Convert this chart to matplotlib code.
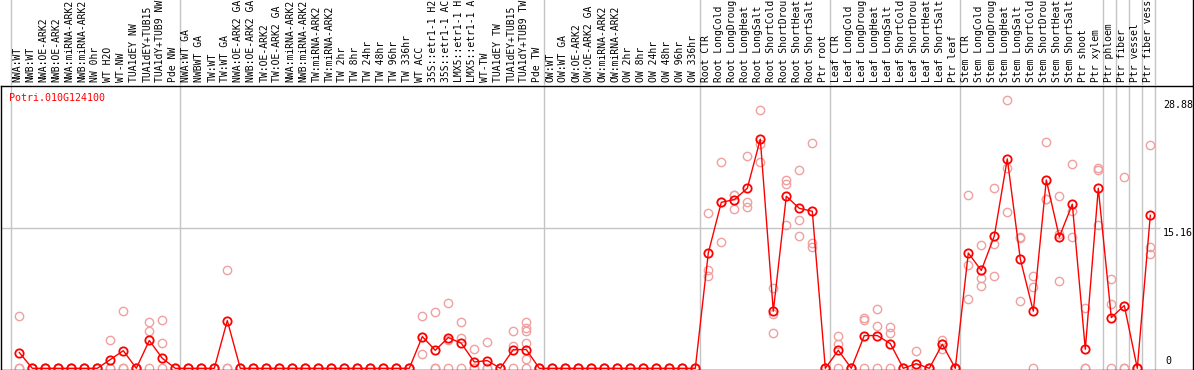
import numpy as np
import matplotlib
matplotlib.use("Agg")
import matplotlib.pyplot as plt

# gene shown in the top-left corner
gene = "Potri.010G124100"

# sample names (as visible, top of each name is cut by the figure edge)
samples = [
    "NWA:WT", "NWB:WT", "NWA:OE-ARK2", "NWB:OE-ARK2", "NWA:miRNA-ARK2", "NWB:miRNA-ARK2",
    "NW 0hr", "WT H2O", "WT-NW", "TUA1dEY NW", "TUA1dEY+TUB15", "TUA1dY+TUB9 NW", "Pde NW",
    "NWA:WT GA", "NWBWT GA", "TW:WT", "TW:WT GA", "NWA:OE-ARK2 GA", "NWB:OE-ARK2 GA",
    "TW:OE-ARK2", "TW:OE-ARK2 GA", "NWA:miRNA-ARK2", "NWB:miRNA-ARK2", "TW:miRNA-ARK2",
    "TW:miRNA-ARK2", "TW 2hr", "TW 8hr", "TW 24hr", "TW 48hr", "TW 96hr", "TW 336hr",
    "WT ACC", "35S::etr1-1 H2", "35S::etr1-1 AC", "LMX5::etr1-1 H", "LMX5::etr1-1 A",
    "WT-TW", "TUA1dEY TW", "TUA1dEY+TUB15", "TUA1dY+TUB9 TW", "Pde TW",
    "OW:WT", "OW:WT GA", "OW:OE-ARK2", "OW:OE-ARK2 GA", "OW:miRNA-ARK2", "OW:miRNA-ARK2",
    "OW 2hr", "OW 8hr", "OW 24hr", "OW 48hr", "OW 96hr", "OW 336hr",
    "Root CTR", "Root LongCold", "Root LongDroug", "Root LongHeat", "Root LongSalt",
    "Root ShortCold", "Root ShortDrou", "Root ShortHeat", "Root ShortSalt", "Ptr root",
    "Leaf CTR", "Leaf LongCold", "Leaf LongDroug", "Leaf LongHeat", "Leaf LongSalt",
    "Leaf ShortCold", "Leaf ShortDrou", "Leaf ShortHeat", "Leaf ShortSalt", "Ptr leaf",
    "Stem CTR", "Stem LongCold", "Stem LongDroug", "Stem LongHeat", "Stem LongSalt",
    "Stem ShortCold", "Stem ShortDrou", "Stem ShortHeat", "Stem ShortSalt", "Ptr shoot",
    "Ptr xylem", "Ptr phloem", "Ptr fiber", "Ptr vessel", "Ptr fiber vessel",
]
group_sizes = [13, 28, 12, 10, 10, 11, 1, 1, 1, 1]

# mean expression per sample
means = [
    1.7, 0, 0, 0, 0, 0, 0, 0.94, 1.9, 0, 3.0, 1.08, 0,
    0, 0, 0, 5.15, 0, 0, 0, 0, 0, 0, 0, 0, 0, 0, 0, 0, 0, 0,
    3.42, 1.94, 3.32, 2.70, 0.68, 0.83, 0, 2.02, 2.02, 0,
    0, 0, 0, 0, 0, 0, 0, 0, 0, 0, 0, 0,
    12.43, 17.9, 18.19, 19.41, 24.71, 6.16, 18.55, 17.25, 16.93, 0,
    1.94, 0, 3.53, 3.53, 2.67, 0, 0.5, 0, 2.59, 0,
    12.43, 10.55, 14.26, 22.58, 11.78, 6.16, 20.31, 14.15, 17.7, 2.05, 19.41,
    5.47, 6.77, 0, 16.5,
]

# individual replicates per sample
z = [0, 0, 0]
reps = [
    [5.6, 0, 0], z, z, z, z, z, z, [3.1, 0, 0], [6.2, 0, 0], z, [4.97, 4.07, 0], [5.26, 2.78, 0], z,
    z, z, z, [10.6, 0, 0], z, z, z, z, z, z, z, z, z, z, z, z, z, z,
    [5.62, 3.4, 1.51], [6.12, 0, 0], [6.99, 3.02, 0], [5.04, 3.32, 0], [2.13, 0, 0], [2.81, 0, 0], z,
    [4.07, 2.41, 0], [4.97, 4.36, 4.07, 2.78, 1.0, 0], z,
    z, z, z, z, z, z, z, z, z, z, z, z,
    [16.71, 10.55, 9.94], [22.26, 17.9, 13.58], [18.7, 18.7, 17.2], [22.87, 17.94, 17.43],
    [27.84, 24.2, 22.26], [8.61, 5.83, 3.86], [20.31, 19.85, 15.45], [21.36, 16.02, 14.23],
    [24.28, 13.54, 13.11], z,
    [3.43, 2.59, 0], z, [5.44, 5.19, 0], [6.37, 4.54, 0], [4.47, 3.82, 0], z, [1.84, 0, 0], z,
    [3.1, 2.6, 2.09], z,
    [18.66, 11.13, 7.42], [13.29, 9.69, 8.83], [19.45, 13.4, 9.94], [28.88, 21.61, 16.86],
    [14.15, 14.0, 7.24], [9.97, 8.75, 0], [24.38, 18.26, 18.3], [18.55, 14.48, 9.4],
    [22.04, 16.96, 14.15], [6.55, 0, 0], [21.61, 21.39, 15.49],
    [9.58, 6.88, 0], [20.6, 0, 0], z, [24.06, 13.07, 12.32],
]

ytick_vals = [28.88, 15.16, 0]

plt.rcParams['font.family'] = ['DejaVu Sans Mono']

W, H = 1194, 370
fig = plt.figure(figsize=(W / 100, H / 100), dpi=100)

# pixel layout of the reference
x0, dx = 19.3, 13.0
xlim = ((1 - x0) / dx, (W - 1 - x0) / dx)
sep_px = 85.5
zero_px, scale = 368.3, 9.274

ax = fig.add_axes([1 / W, 0.5 / H, (W - 2) / W, (H - 0.5 - sep_px) / H])
lab = fig.add_axes([1 / W, (H - sep_px) / H, (W - 2) / W, sep_px / H])

ax.set_xlim(*xlim)
ax.set_ylim((zero_px - 369.5) / scale, (zero_px - sep_px) / scale)
lab.set_xlim(*xlim)
lab.set_ylim(sep_px, 0)

for a in (ax, lab):
    a.set_xticks([])
    a.set_yticks([])
    a.patch.set_alpha(0)
for s in ax.spines.values():
    s.set_linewidth(1.0)
    s.set_color('black')
for k in ('left', 'top', 'bottom'):
    lab.spines[k].set_visible(False)
lab.spines['right'].set_linewidth(1.0)

x = np.arange(len(samples))

# group separators
bounds = np.concatenate([[-1], np.cumsum(group_sizes) - 1]) + 0.37
for b in bounds:
    ax.axvline(b, color='#c4c4c4', lw=1.0, zorder=0)
    lab.axvline(b, color='#c4c4c4', lw=1.0, zorder=0)

ax.hlines(ytick_vals[1], xlim[0], (1160 - x0) / dx, color='#c4c4c4', lw=1.0, zorder=0)

# replicates
for i, r in enumerate(reps):
    ax.plot([i] * len(r), r, ls='none', marker='o', ms=6, mfc='none',
            mec='#f0a0a0', mew=1.0, clip_on=False, zorder=2)

# mean profile
ax.plot(x, means, color='red', lw=1.0, marker='o', ms=6, mfc='none',
        mec='red', mew=1.3, clip_on=False, zorder=3)

# sample labels
for i, name in enumerate(samples):
    lab.text(i - 0.15, 82, name, rotation=90, ha='center', va='bottom',
             fontsize=7, color='black')

# value labels on the right
tx = (1163 - x0) / dx
ax.text(tx, ytick_vals[0], f"{ytick_vals[0]:.2f}", ha='left', va='top', fontsize=7.2)
ax.text(tx, ytick_vals[1], f"{ytick_vals[1]:.2f}", ha='left', va='top', fontsize=7.2)
ax.text(tx + 0.2, ytick_vals[2] + 0.2, "0", ha='left', va='bottom', fontsize=7.2)

ax.text((9 - x0) / dx, (zero_px - 98) / scale, gene, ha='left', va='center',
        fontsize=7.2, color='red')

fig.savefig("out.png", dpi=100)
